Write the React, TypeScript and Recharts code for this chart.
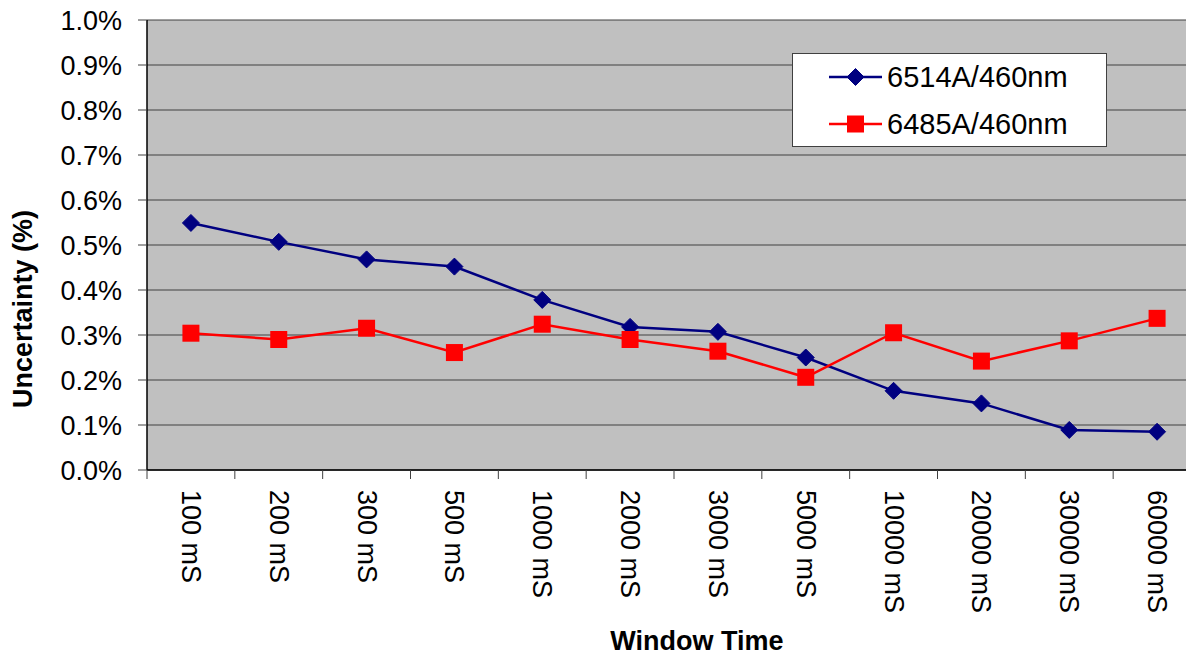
import React from 'react';
import { LineChart, Line, XAxis, YAxis, CartesianGrid, Label } from 'recharts';

// categories (window time) and measured uncertainty in %
const windows = ['100 mS', '200 mS', '300 mS', '500 mS', '1000 mS', '2000 mS', '3000 mS', '5000 mS', '10000 mS', '20000 mS', '30000 mS', '60000 mS'];
const s6514 = [0.549, 0.507, 0.468, 0.452, 0.378, 0.318, 0.307, 0.250, 0.176, 0.148, 0.089, 0.085];
const s6485 = [0.304, 0.290, 0.315, 0.261, 0.324, 0.290, 0.264, 0.206, 0.305, 0.242, 0.287, 0.337];
const yTicks = [0, 0.1, 0.2, 0.3, 0.4, 0.5, 0.6, 0.7, 0.8, 0.9, 1.0];

const data = windows.map((name, i) => ({ name, a: s6514[i], b: s6485[i] }));

const FONT = '"Liberation Sans", Arial, sans-serif';
const BLUE = '#000080';
const RED = '#FF0000';

const Diamond = (props: any) => {
  const { cx, cy } = props;
  if (cx == null || cy == null) return null;
  const r = 8.5;
  return <path d={`M${cx},${cy - r}L${cx + r},${cy}L${cx},${cy + r}L${cx - r},${cy}Z`} fill={BLUE} stroke={BLUE} />;
};

const Square = (props: any) => {
  const { cx, cy } = props;
  if (cx == null || cy == null) return null;
  const s = 17;
  return <rect x={cx - s / 2} y={cy - s / 2} width={s} height={s} fill={RED} />;
};

// tick mark sits on the band edge, label rotated under the band centre
const XTick = (props: any) => {
  const { x, y, payload, width } = props;
  const band = (width || 1054) / windows.length;
  const edge = x - band / 2;
  return (
    <g>
      <line x1={edge} y1={y} x2={edge} y2={y + 9} stroke="#404040" strokeWidth={1} />
      <text
        x={x}
        y={y + 20}
        transform={`rotate(90, ${x}, ${y + 20})`}
        textAnchor="start"
        dominantBaseline="central"
        fontFamily={FONT}
        fontSize={27}
        fill="#000"
      >
        {payload.value}
      </text>
    </g>
  );
};

const LegendBox = () => (
  <svg width={315} height={94} style={{ display: 'block' }}>
    <rect x={0.5} y={0.5} width={314} height={93} fill="#fff" stroke="#404040" />
    <line x1={37} y1={24} x2={90} y2={24} stroke={BLUE} strokeWidth={2.5} />
    <Diamond cx={63.5} cy={24} />
    <text x={95} y={24} dominantBaseline="central" fontFamily={FONT} fontSize={29} fill="#000">6514A/460nm</text>
    <line x1={37} y1={71} x2={90} y2={71} stroke={RED} strokeWidth={2.5} />
    <Square cx={63.5} cy={71} />
    <text x={95} y={71} dominantBaseline="central" fontFamily={FONT} fontSize={29} fill="#000">6485A/460nm</text>
  </svg>
);

export default function App() {
  return (
    <div style={{ margin: -8, width: 1194, height: 658, overflow: 'hidden', background: '#fff', position: 'relative' }}>
      <LineChart width={1202} height={658} data={data} margin={{ top: 20, right: 1, left: 0, bottom: 0 }}>
        <CartesianGrid vertical={false} stroke="#404040" fill="#C0C0C0" />
        <XAxis
          dataKey="name"
          scale="band"
          height={188}
          interval={0}
          tickLine={false}
          tickSize={0}
          tickMargin={0}
          axisLine={{ stroke: '#000', strokeWidth: 1.5 }}
          tick={<XTick />}
        >
          <Label
            content={() => (
              <text x={697} y={641} textAnchor="middle" dominantBaseline="central" fontFamily={FONT} fontSize={27} fontWeight="bold" fill="#000">
                Window Time
              </text>
            )}
          />
        </XAxis>
        <YAxis
          width={147}
          domain={[0, 1]}
          ticks={yTicks}
          interval={0}
          tickSize={9}
          tickMargin={16}
          tickLine={{ stroke: '#404040' }}
          axisLine={{ stroke: '#000', strokeWidth: 1.5 }}
          tickFormatter={(v: number) => `${v.toFixed(1)}%`}
          tick={{ fontFamily: FONT, fontSize: 27, fill: '#000' }}
        >
          <Label
            content={() => (
              <text x={23} y={309} transform="rotate(-90, 23, 309)" textAnchor="middle" dominantBaseline="central" fontFamily={FONT} fontSize={27} fontWeight="bold" fill="#000">
                Uncertainty (%)
              </text>
            )}
          />
        </YAxis>
        <Line dataKey="a" name="6514A/460nm" stroke={BLUE} strokeWidth={2.5} dot={<Diamond />} isAnimationActive={false} />
        <Line dataKey="b" name="6485A/460nm" stroke={RED} strokeWidth={2.5} dot={<Square />} isAnimationActive={false} />
      </LineChart>
      <div style={{ position: 'absolute', left: 792, top: 53 }}>
        <LegendBox />
      </div>
    </div>
  );
}
